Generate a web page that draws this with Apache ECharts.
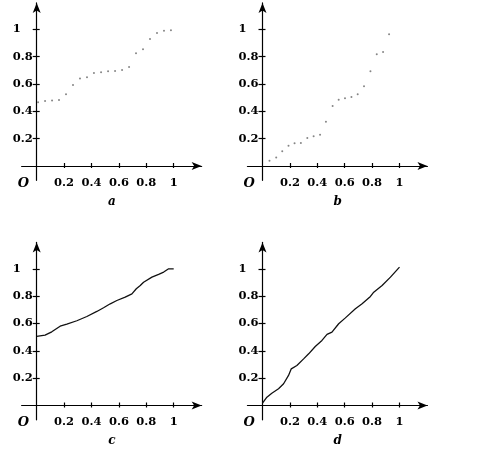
<!DOCTYPE html>
<html><head><meta charset="utf-8">
<script src="https://cdn.jsdelivr.net/npm/echarts@6/dist/echarts.min.js"></script>
<style>html,body{margin:0;padding:0;background:#fff}#c{width:484px;height:455px}</style>
</head><body><div id="c"></div>
<script>
// ---- data ----
const tickValues = [0.2, 0.4, 0.6, 0.8, 1];
const panelLabels = ['a', 'b', 'c', 'd'];
const originLabel = 'O';

const aX = [0.01, 0.061, 0.112, 0.163, 0.214, 0.265, 0.316, 0.367, 0.418, 0.47, 0.521, 0.572, 0.623, 0.674, 0.725, 0.776, 0.827, 0.878, 0.929, 0.98];
const aY = [0.466, 0.476, 0.48, 0.483, 0.524, 0.593, 0.641, 0.649, 0.68, 0.685, 0.693, 0.695, 0.702, 0.724, 0.824, 0.854, 0.929, 0.973, 0.99, 0.993];

const bX = [0.051, 0.1, 0.144, 0.19, 0.234, 0.28, 0.327, 0.373, 0.42, 0.463, 0.512, 0.556, 0.602, 0.649, 0.695, 0.741, 0.788, 0.834, 0.88, 0.924];
const bY = [0.039, 0.063, 0.107, 0.149, 0.166, 0.168, 0.205, 0.217, 0.229, 0.324, 0.439, 0.485, 0.495, 0.505, 0.524, 0.583, 0.693, 0.817, 0.834, 0.963];

const cX = [0, 0.061, 0.11, 0.171, 0.22, 0.293, 0.366, 0.439, 0.488, 0.537, 0.585, 0.646, 0.695, 0.727, 0.756, 0.78, 0.793, 0.841, 0.89, 0.927, 0.963, 1.0];
const cY = [0.505, 0.515, 0.539, 0.58, 0.595, 0.62, 0.651, 0.688, 0.715, 0.744, 0.768, 0.793, 0.817, 0.854, 0.878, 0.902, 0.915, 0.939, 0.959, 0.976, 1.0, 1.0];

const dX = [0, 0.032, 0.068, 0.117, 0.154, 0.19, 0.21, 0.251, 0.3, 0.337, 0.385, 0.434, 0.471, 0.507, 0.556, 0.605, 0.678, 0.727, 0.788, 0.812, 0.873, 0.934, 1.0];
const dY = [0.017, 0.061, 0.09, 0.122, 0.159, 0.22, 0.268, 0.293, 0.341, 0.378, 0.432, 0.476, 0.52, 0.537, 0.598, 0.641, 0.707, 0.744, 0.798, 0.829, 0.878, 0.939, 1.012];

// ---- layout ----
const X_MIN = -0.11, X_MAX = 1.204, Y_MIN = -0.105, Y_MAX = 1.193;
const UX = 137, UY = 136.7;
const origins = [[36.7, 166], [262.5, 166], [36.7, 405.5], [262.5, 405.5]];
const FONT = '"DejaVu Serif", "Liberation Serif", serif';

const zip = (xs, ys) => xs.map((x, i) => [x, ys[i]]);
const seriesData = [zip(aX, aY), zip(bX, bY), zip(cX, cY), zip(dX, dY)];
const seriesKind = ['scatter', 'scatter', 'line', 'line'];

const grids = origins.map(([ox, oy]) => ({
  left: ox + X_MIN * UX,
  top: oy - Y_MAX * UY,
  width: (X_MAX - X_MIN) * UX,
  height: (Y_MAX - Y_MIN) * UY,
  containLabel: false,
  outerBoundsMode: 'none'
}));

const lineStyle = { color: '#000', width: 1.2 };
const xAxes = [], yAxes = [];
for (let i = 0; i < 4; i++) {
  xAxes[i] = {
    gridIndex: i, type: 'value', min: X_MIN, max: X_MAX, position: 'bottom',
    axisLine: { onZero: true, onZeroAxisIndex: i, lineStyle, symbol: ['none', 'arrow'], symbolSize: [6, 10] },
    axisTick: { show: true, inside: true, length: 3, customValues: tickValues, lineStyle },
    axisLabel: { customValues: tickValues, formatter: v => String(v), fontFamily: FONT, fontWeight: 'bold', fontSize: 11.5, color: '#000', margin: -3.5 },
    splitLine: { show: false }
  };
  yAxes[i] = {
    gridIndex: i, type: 'value', min: Y_MIN, max: Y_MAX, position: 'left',
    axisLine: { onZero: true, onZeroAxisIndex: i, lineStyle, symbol: ['none', 'arrow'], symbolSize: [6, 10] },
    axisTick: { show: true, inside: true, length: 3, customValues: tickValues, lineStyle },
    axisLabel: { customValues: tickValues, formatter: v => String(v), fontFamily: FONT, fontWeight: 'bold', fontSize: 11.5, color: '#000', margin: 8.9, align: 'left' },
    splitLine: { show: false }
  };
  xAxes[4 + i] = {
    gridIndex: i, type: 'value', min: X_MIN, max: X_MAX, position: 'bottom',
    axisLine: { show: false, onZero: true, onZeroAxisIndex: i },
    axisTick: { show: true, inside: false, length: 2, customValues: tickValues, lineStyle },
    axisLabel: { show: false },
    splitLine: { show: false }
  };
  yAxes[4 + i] = {
    gridIndex: i, type: 'value', min: Y_MIN, max: Y_MAX, position: 'left',
    axisLine: { show: false, onZero: true, onZeroAxisIndex: i },
    axisTick: { show: true, inside: false, length: 4, customValues: tickValues, lineStyle },
    axisLabel: { show: false },
    splitLine: { show: false }
  };
}

const series = seriesData.map((data, i) => seriesKind[i] === 'scatter' ? {
  type: 'scatter', xAxisIndex: i, yAxisIndex: i, data, symbolSize: 2,
  itemStyle: { color: '#666' }, silent: true
} : {
  type: 'line', xAxisIndex: i, yAxisIndex: i, data, showSymbol: false, smooth: false,
  lineStyle: { color: '#111', width: 1.3 }, silent: true
});

const graphics = [];
origins.forEach(([ox, oy], i) => {
  graphics.push({ type: 'text', style: { text: originLabel, x: ox - 13.4, y: oy + 17.3, font: 'italic bold 13px ' + FONT, align: 'center', verticalAlign: 'middle', fill: '#000' } });
  graphics.push({ type: 'text', style: { text: panelLabels[i], x: ox + 75.3, y: oy + 35.7, font: 'italic bold 12px ' + FONT, align: 'center', verticalAlign: 'middle', fill: '#000' } });
});

const chart = echarts.init(document.getElementById('c'), null, { renderer: 'canvas' });
chart.setOption({
  animation: false,
  backgroundColor: '#fff',
  grid: grids,
  xAxis: xAxes,
  yAxis: yAxes,
  series,
  graphic: graphics
});
</script>
</body></html>
